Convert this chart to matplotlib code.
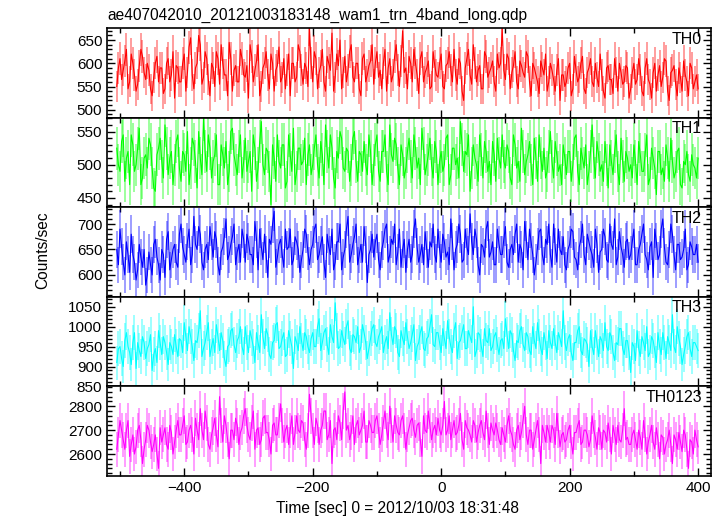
import numpy as np
import matplotlib
matplotlib.use("Agg")
import matplotlib.pyplot as plt
from matplotlib.ticker import MultipleLocator

plt.rcParams['font.family'] = ['Liberation Sans', 'DejaVu Sans']

title = "ae407042010_20121003183148_wam1_trn_4band_long.qdp"
xlabel = "Time [sec] 0 = 2012/10/03 18:31:48"
ylabel = "Counts/sec"

# time bins (sec): main bins every 5 s from -505 to 400, *_mid bins in between
t_start, t_step = -505, 2.5
bin_sec = 0.5   # exposure used for the poisson error bars

th0 = [550, 610, 585, 630, 560, 600, 540, 595, 615, 565, 585, 530, 600, 560, 590, 545, 610, 575, 525, 590,
       560, 620, 580, 655, 545, 600, 640, 570, 610, 530, 590, 625, 555, 600, 575, 645, 540, 595, 560, 610,
       570, 525, 615, 585, 640, 550, 600, 575, 620, 540, 595, 560, 610, 585, 530, 600, 570, 625, 555, 590,
       675, 560, 610, 580, 630, 540, 600, 665, 570, 595, 545, 615, 585, 640, 560, 600, 530, 620, 575, 605,
       555, 625, 585, 600, 540, 610, 575, 640, 550, 670, 590, 615, 560, 600, 535, 625, 580, 605, 550, 595,
       570, 620, 545, 600, 585, 630, 555, 600, 520, 610, 575, 640, 560, 595, 545, 615, 580, 605, 540, 590,
       675, 565, 610, 580, 625, 545, 595, 570, 615, 530, 590, 560, 605, 575, 540, 600, 565, 585, 520, 575,
       560, 600, 545, 585, 570, 615, 535, 590, 560, 600, 550, 575, 525, 595, 565, 610, 540, 580, 560, 590,
       545, 600, 565, 585, 530, 610, 555, 580, 540, 595, 570, 605, 520, 585, 555, 590, 540, 575, 530, 590,
       560, 545]
th0_mid = [590, 565, 605, 545, 620, 575, 555, 630, 580, 600, 545, 570, 615, 590, 535, 600, 560, 625, 595, 560,
           600, 540, 635, 575, 590, 660, 555, 625, 565, 600, 550, 610, 640, 575, 530, 610, 585, 560, 630, 575,
           595, 640, 560, 605, 530, 590, 625, 545, 600, 585, 635, 570, 545, 620, 600, 560, 640, 585, 600, 550,
           600, 625, 545, 595, 560, 615, 585, 540, 620, 650, 580, 560, 625, 570, 600, 545, 610, 560, 595, 640,
           600, 570, 545, 630, 590, 560, 615, 585, 605, 580, 545, 600, 630, 575, 610, 560, 590, 545, 625, 575,
           600, 550, 595, 625, 560, 575, 610, 540, 590, 630, 555, 600, 585, 545, 625, 570, 590, 560, 620, 600,
           585, 620, 545, 595, 560, 605, 580, 625, 560, 600, 575, 535, 590, 620, 560, 585, 540, 610, 575, 550,
           590, 530, 615, 560, 600, 545, 580, 610, 550, 570, 620, 540, 590, 565, 535, 580, 600, 555, 595, 525,
           580, 555, 610, 540, 590, 565, 525, 600, 575, 550, 610, 540, 580, 595, 530, 570, 605, 560, 600, 545,
           575]

th1 = [525, 490, 545, 510, 470, 530, 500, 555, 480, 515, 540, 495, 460, 525, 505, 560, 485, 520, 500, 545,
       475, 515, 550, 495, 530, 465, 510, 570, 490, 525, 505, 545, 470, 515, 535, 490, 555, 500, 520, 480,
       540, 505, 460, 525, 495, 565, 485, 520, 440, 510, 545, 495, 530, 475, 515, 555, 490, 525, 505, 470,
       530, 500, 545, 480, 515, 560, 495, 525, 465, 510, 540, 490, 520, 500, 550, 475, 515, 535, 485, 520,
       500, 545, 475, 520, 490, 560, 505, 530, 470, 515, 495, 540, 480, 525, 510, 555, 485, 515, 500, 535,
       470, 520, 500, 545, 485, 525, 510, 565, 490, 515, 460, 530, 500, 545, 480, 520, 505, 535, 475, 510,
       545, 495, 520, 470, 530, 505, 555, 485, 515, 500, 540, 475, 510, 525, 490, 550, 480, 515, 500, 530,
       485, 520, 500, 545, 470, 510, 530, 490, 560, 480, 515, 500, 535, 465, 505, 520, 490, 540, 475, 510,
       500, 530, 470, 515, 490, 545, 480, 510, 455, 520, 495, 530, 475, 505, 490, 525, 465, 500, 485, 515,
       495, 510]
th1_mid = [500, 535, 475, 520, 545, 490, 525, 470, 510, 495, 530, 465, 515, 540, 480, 525, 510, 470, 535, 495,
           520, 490, 470, 540, 505, 550, 485, 520, 545, 480, 515, 470, 530, 495, 470, 550, 515, 485, 545, 505,
           490, 520, 545, 475, 535, 500, 525, 490, 530, 475, 505, 530, 465, 545, 490, 470, 525, 500, 540, 515,
           485, 525, 500, 535, 470, 520, 545, 480, 520, 550, 495, 525, 475, 540, 505, 520, 490, 500, 545, 470,
           530, 490, 520, 545, 470, 515, 540, 495, 530, 480, 520, 505, 545, 495, 470, 525, 500, 540, 480, 520,
           505, 490, 540, 470, 525, 500, 480, 530, 520, 545, 495, 510, 475, 515, 535, 490, 470, 515, 540, 495,
           505, 530, 480, 545, 495, 475, 520, 505, 535, 470, 510, 545, 490, 480, 520, 505, 535, 490, 470, 510,
           520, 475, 540, 490, 525, 495, 470, 520, 510, 535, 490, 475, 500, 530, 485, 545, 470, 505, 520, 490,
           480, 505, 535, 490, 515, 470, 525, 495, 520, 485, 475, 510, 540, 480, 520, 470, 505, 520, 475, 500,
           480]

th2 = [650, 690, 625, 665, 605, 640, 590, 660, 615, 580, 645, 600, 670, 620, 650, 595, 685, 630, 660, 615,
       700, 640, 665, 620, 715, 650, 680, 610, 660, 695, 635, 670, 600, 655, 710, 640, 675, 620, 660, 690,
       625, 665, 640, 705, 610, 655, 680, 595, 660, 725, 635, 670, 615, 650, 690, 630, 665, 605, 650, 680,
       620, 660, 700, 640, 675, 595, 655, 690, 625, 665, 610, 650, 715, 640, 675, 620, 660, 695, 585, 650,
       635, 680, 610, 665, 700, 640, 660, 620, 690, 650, 605, 670, 640, 710, 625, 660, 685, 615, 655, 640,
       690, 625, 665, 645, 710, 610, 660, 680, 630, 655, 720, 640, 670, 600, 655, 690, 635, 665, 620, 660,
       640, 695, 615, 660, 680, 625, 650, 705, 630, 665, 600, 655, 690, 620, 660, 640, 700, 625, 650, 675,
       610, 660, 685, 630, 655, 700, 620, 665, 640, 690, 605, 650, 675, 625, 660, 710, 635, 655, 615, 670,
       640, 690, 620, 660, 700, 630, 655, 595, 665, 640, 710, 625, 650, 680, 610, 660, 635, 690, 620, 655,
       640, 625]
th2_mid = [620, 655, 600, 640, 680, 625, 610, 635, 650, 600, 620, 660, 635, 590, 640, 670, 610, 650, 625, 680,
           655, 625, 690, 640, 660, 695, 625, 650, 630, 665, 685, 620, 645, 675, 630, 660, 700, 645, 625, 670,
           680, 640, 620, 670, 690, 630, 640, 670, 700, 615, 660, 640, 690, 655, 620, 675, 650, 630, 690, 645,
           650, 690, 630, 660, 625, 680, 640, 610, 665, 700, 635, 690, 625, 660, 700, 640, 625, 660, 640, 680,
           665, 630, 650, 690, 625, 670, 700, 645, 615, 670, 650, 625, 690, 655, 640, 620, 650, 665, 700, 625,
           650, 680, 635, 620, 665, 650, 700, 625, 690, 640, 665, 690, 620, 660, 635, 705, 645, 620, 690, 640,
           670, 625, 650, 640, 700, 660, 610, 670, 690, 640, 625, 685, 640, 670, 700, 615, 655, 690, 640, 620,
           650, 690, 635, 610, 670, 640, 680, 650, 615, 660, 645, 690, 630, 700, 650, 620, 685, 640, 665, 630,
           665, 620, 650, 680, 640, 610, 665, 690, 630, 690, 655, 620, 700, 640, 660, 630, 650, 610, 665, 640,
           660]

th3 = [910, 950, 900, 985, 935, 960, 895, 940, 975, 920, 955, 890, 945, 990, 930, 960, 905, 950, 980, 925,
       965, 1010, 940, 975, 915, 960, 1040, 945, 985, 925, 970, 1005, 940, 965, 900, 955, 995, 935, 975, 950,
       1000, 935, 970, 910, 960, 1030, 945, 980, 920, 965, 1010, 950, 985, 930, 970, 895, 960, 1000, 940, 975,
       935, 985, 950, 1020, 960, 995, 930, 975, 1060, 945, 990, 955, 1015, 935, 975, 1000, 950, 985, 920, 970,
       1005, 950, 985, 935, 975, 1035, 955, 990, 925, 970, 1010, 945, 980, 915, 960, 1000, 940, 975, 1030, 950,
       985, 935, 970, 1015, 950, 990, 920, 965, 1005, 945, 975, 1050, 940, 980, 925, 965, 995, 950, 985, 930,
       970, 1020, 945, 980, 915, 960, 1000, 940, 975, 930, 965, 1010, 945, 985, 920, 960, 995, 935, 970, 1040,
       940, 980, 915, 960, 1000, 930, 965, 900, 950, 990, 925, 965, 1010, 940, 975, 915, 955, 995, 930, 965,
       885, 950, 990, 925, 960, 1000, 935, 965, 910, 950, 985, 920, 960, 1030, 935, 970, 905, 950, 985, 925,
       960, 940]
th3_mid = [945, 920, 965, 950, 905, 985, 960, 925, 960, 945, 980, 930, 910, 960, 975, 935, 960, 930, 950, 970,
           935, 975, 1000, 950, 965, 990, 925, 960, 1010, 950, 935, 975, 985, 920, 950, 990, 955, 965, 1000, 930,
           960, 990, 950, 985, 935, 975, 995, 930, 960, 1005, 945, 970, 925, 990, 950, 975, 940, 965, 985, 950,
           970, 950, 1000, 940, 985, 955, 1005, 960, 990, 950, 970, 1000, 945, 980, 960, 935, 1005, 960, 945, 995,
           960, 975, 1000, 960, 945, 980, 1000, 935, 990, 955, 975, 960, 1005, 950, 985, 945, 970, 1000, 955, 985,
           960, 995, 945, 975, 935, 1010, 960, 985, 945, 990, 960, 925, 985, 950, 995, 960, 940, 975, 955, 965,
           945, 980, 990, 940, 965, 990, 955, 985, 940, 1000, 945, 975, 930, 960, 990, 945, 960, 985, 950, 960,
           970, 935, 960, 990, 940, 970, 955, 990, 930, 960, 975, 940, 950, 985, 935, 960, 995, 945, 965, 935,
           960, 915, 945, 975, 940, 925, 975, 940, 985, 930, 960, 975, 940, 950, 1000, 950, 930, 975, 945, 960,
           950]

th0123 = [2620, 2740, 2660, 2700, 2590, 2680, 2630, 2720, 2560, 2660, 2700, 2610, 2680, 2540, 2650, 2710, 2620, 2690, 2650, 2740,
          2680, 2760, 2650, 2720, 2600, 2700, 2790, 2660, 2730, 2620, 2710, 2680, 2840, 2650, 2720, 2580, 2700, 2750, 2640, 2710,
          2790, 2680, 2730, 2620, 2710, 2660, 2760, 2690, 2600, 2730, 2680, 2810, 2650, 2720, 2700, 2640, 2760, 2690, 2730, 2620,
          2850, 2700, 2750, 2640, 2720, 2780, 2680, 2560, 2710, 2760, 2660, 2860, 2720, 2690, 2640, 2740, 2700, 2780, 2650, 2720,
          2690, 2760, 2640, 2730, 2700, 2800, 2650, 2720, 2680, 2760, 2620, 2710, 2750, 2670, 2730, 2590, 2700, 2780, 2660, 2720,
          2750, 2680, 2820, 2700, 2660, 2740, 2690, 2770, 2620, 2710, 2680, 2740, 2650, 2720, 2690, 2780, 2640, 2700, 2730, 2660,
          2710, 2650, 2760, 2680, 2620, 2720, 2690, 2800, 2640, 2700, 2660, 2740, 2560, 2690, 2720, 2650, 2700, 2770, 2630, 2690,
          2660, 2720, 2600, 2690, 2740, 2650, 2700, 2630, 2760, 2670, 2710, 2620, 2690, 2730, 2600, 2680, 2720, 2650, 2790, 2670,
          2640, 2700, 2620, 2670, 2740, 2600, 2680, 2650, 2710, 2580, 2670, 2640, 2700, 2560, 2660, 2690, 2610, 2680, 2540, 2650,
          2700, 2630]
th0123_mid = [2680, 2700, 2620, 2740, 2640, 2600, 2700, 2660, 2620, 2720, 2650, 2640, 2600, 2710, 2680, 2640, 2720, 2600, 2700, 2680,
              2720, 2640, 2700, 2680, 2750, 2660, 2700, 2780, 2640, 2680, 2750, 2630, 2720, 2760, 2660, 2700, 2660, 2720, 2690, 2760,
              2720, 2660, 2780, 2700, 2640, 2750, 2690, 2660, 2720, 2680, 2740, 2720, 2700, 2640, 2760, 2690, 2700, 2740, 2660, 2700,
              2760, 2640, 2720, 2700, 2780, 2660, 2740, 2700, 2660, 2730, 2780, 2700, 2660, 2760, 2720, 2680, 2720, 2650, 2740, 2690,
              2740, 2700, 2680, 2780, 2660, 2720, 2760, 2690, 2740, 2700, 2680, 2740, 2700, 2720, 2660, 2760, 2690, 2720, 2700, 2680,
              2700, 2720, 2680, 2760, 2700, 2680, 2720, 2660, 2740, 2700, 2650, 2720, 2690, 2740, 2660, 2700, 2730, 2680, 2700, 2640,
              2680, 2720, 2700, 2640, 2700, 2660, 2740, 2680, 2700, 2620, 2700, 2680, 2720, 2650, 2690, 2720, 2640, 2700, 2680, 2650,
              2700, 2650, 2690, 2720, 2640, 2700, 2680, 2660, 2700, 2620, 2690, 2700, 2650, 2680, 2720, 2640, 2660, 2700, 2660, 2640,
              2680, 2660, 2700, 2620, 2680, 2650, 2720, 2620, 2660, 2680, 2600, 2660, 2640, 2680, 2620, 2650, 2700, 2620, 2660, 2600,
              2660]

names  = ["TH0", "TH1", "TH2", "TH3", "TH0123"]
series = [(th0, th0_mid), (th1, th1_mid), (th2, th2_mid), (th3, th3_mid), (th0123, th0123_mid)]
colors = ["#ff0000", "#00ff00", "#0000ff", "#00ffff", "#ff00ff"]
ylims  = [(483, 676), (436, 571), (557, 733), (850, 1075), (2508, 2883)]
ymajor = [50, 50, 50, 50, 100]
yminor = [10, 10, 10, 10, 20]


def interleave(a, b):
    out = np.empty(len(a) + len(b))
    out[0::2] = a
    out[1::2] = b
    return out


fig, axs = plt.subplots(5, 1, sharex=True, figsize=(7.24, 5.16), dpi=100)
fig.subplots_adjust(left=0.148, right=0.982, top=0.9457, bottom=0.0775, hspace=0)

fsize, tsize = 11, 11.2
for ax, name, (ya, yb), cc, yl, ym, yn in zip(axs, names, series, colors, ylims, ymajor, yminor):
    yy = interleave(ya, yb)
    tt = t_start + t_step*np.arange(len(yy))
    ax.errorbar(tt, yy, yerr=np.sqrt(yy/bin_sec), fmt='none', ecolor=cc, elinewidth=1.2, alpha=0.45)
    ax.plot(tt, yy, color=cc, lw=0.8)
    ax.set_ylim(*yl)
    ax.yaxis.set_major_locator(MultipleLocator(ym))
    ax.yaxis.set_minor_locator(MultipleLocator(yn))
    ax.xaxis.set_major_locator(MultipleLocator(200))
    ax.xaxis.set_minor_locator(MultipleLocator(100))
    ax.tick_params(which='both', direction='in', top=True, right=True, labelsize=fsize, width=1.0)
    ax.tick_params(which='major', length=6)
    ax.tick_params(which='minor', length=3.5)
    for sp in ax.spines.values():
        sp.set_linewidth(1.2)
    ax.text(0.985, 0.96, name, transform=ax.transAxes, ha='right', va='top', fontsize=11.5)

axs[-1].set_xlim(-520, 420)

fig.text(107/724, 1-15/516, title, ha='left', va='center', fontsize=tsize)
fig.text(43/724, 1-250/516, ylabel, rotation=90, ha='center', va='center', fontsize=tsize)
fig.text(397/724, 1-508/516, xlabel, ha='center', va='center', fontsize=tsize)

fig.savefig("out.png", dpi=100)
